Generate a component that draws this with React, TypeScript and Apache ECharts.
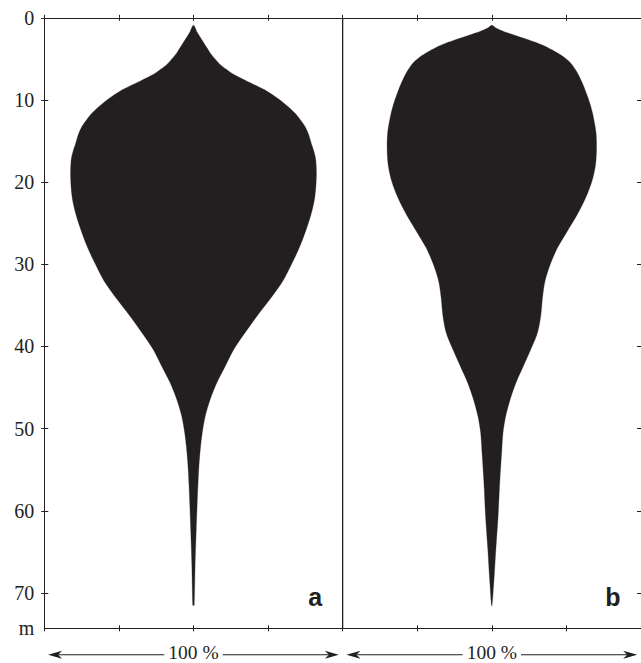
import React, { useEffect, useRef } from 'react';
import * as echarts from 'echarts';

// ---- data ----
const depthTicks = [0, 10, 20, 30, 40, 50, 60, 70];
const depthMax = 74.3;
const depthUnitLabel = 'm';
const percentMin = 0;
const percentMax = 200;
const percentTickStep = 25;
const panelLabels = ['a', 'b'];
const panelStarts = [0, 100];
const panelWidth = 100;
const panelSpanLabel = '100 %';

// panel a: depth (m) and relative width (%)
const depthA = [0.9, 1.8, 2.7, 3.5, 4.3, 5.0, 5.7, 6.2, 6.75, 7.3, 7.8, 8.3, 8.8, 9.4, 10.0, 10.8, 11.6, 12.4, 13.2, 14.2, 15.3, 16.3, 17.3, 19.3, 21.9, 24.0, 26.0, 28.0, 30.0, 32.1, 34.2, 36.2, 38.3, 40.4, 42.4, 44.4, 46.4, 48.4, 50.5, 52.5, 54.5, 56.5, 58.6, 62.6, 66.6, 71.5, 71.5];
const widthA = [0, 2.6, 5.7, 8.5, 11.3, 14.5, 18, 21.5, 25.7, 31.3, 36.9, 42.6, 48, 53.3, 58, 63.3, 68, 71.6, 74.7, 77.2, 79, 80.8, 82, 82.4, 81.3, 78.7, 75.1, 70.9, 65.7, 59.7, 51.5, 43, 34.7, 26.9, 21.3, 15.7, 11.3, 8.0, 5.9, 4.6, 3.7, 3.1, 2.6, 1.8, 1.1, 0.5, 0];

// panel b
const depthB = [0.9, 1.2, 1.5, 1.8, 2.1, 2.7, 3.3, 3.9, 4.5, 5.1, 5.7, 6.3, 7.0, 8.2, 9.4, 10.4, 11.6, 13.9, 15.9, 17.9, 19.9, 22.0, 24.0, 26.0, 28.0, 30.1, 32.1, 34.2, 36.3, 38.4, 40.4, 42.4, 44.5, 46.5, 48.5, 50.5, 52.6, 56.6, 60.7, 64.7, 68.8, 71.6];
const widthB = [0, 2.5, 6, 10, 14.9, 24.9, 33.8, 40.4, 46, 50.5, 53.8, 56, 58.2, 61.3, 63.8, 65.7, 67.5, 69.8, 70.2, 69.5, 67.1, 62.7, 57.1, 50.5, 44, 39, 35.6, 33.9, 32.8, 30.5, 26, 21.1, 16, 12.2, 9.3, 7.5, 6.7, 5.3, 4.2, 2.7, 1.3, 0];

const profiles = [
  { depths: depthA, widths: widthA },
  { depths: depthB, widths: widthB },
];

const INK = '#231f20';
const SERIF = '"Liberation Serif", "Times New Roman", serif';
const SANS = '"Liberation Sans", Arial, sans-serif';

export default function App() {
  const ref = useRef<HTMLDivElement>(null);

  useEffect(() => {
    if (!ref.current) return;
    const chart = echarts.init(ref.current, undefined, { renderer: 'svg' });

    const xBase = {
      type: 'value',
      min: percentMin,
      max: percentMax,
      interval: percentTickStep,
      splitLine: { show: false },
      axisLabel: { show: false },
    };
    const yBase = {
      type: 'value',
      inverse: true,
      min: 0,
      max: depthMax,
      splitLine: { show: false },
    };
    const lineStyle = { color: INK, width: 1 };

    const option: any = {
      animation: false,
      backgroundColor: '#ffffff',
      grid: { left: 44.3, top: 17.8, right: -3.3, bottom: 34.7, containLabel: false },
      xAxis: [
        { ...xBase, position: 'bottom', axisLine: { show: true, onZero: false, lineStyle }, axisTick: { show: true, inside: false, length: 3, lineStyle } },
        { ...xBase, position: 'bottom', axisLine: { show: false, onZero: false }, axisTick: { show: true, inside: true, length: 3, lineStyle } },
        { ...xBase, position: 'top', axisLine: { show: true, onZero: false, lineStyle }, axisTick: { show: true, inside: false, length: 3, lineStyle } },
        { ...xBase, position: 'top', axisLine: { show: false, onZero: false }, axisTick: { show: true, inside: true, length: 3, lineStyle } },
      ],
      yAxis: [
        {
          ...yBase,
          position: 'left',
          axisLine: { show: true, onZero: false, lineStyle },
          axisTick: { show: true, inside: false, length: 3, customValues: depthTicks, lineStyle },
          axisLabel: {
            show: true,
            customValues: [...depthTicks, depthMax],
            formatter: (v: number) => (v === depthMax ? depthUnitLabel : String(v)),
            margin: 10,
            fontFamily: SERIF,
            fontSize: 20,
            color: INK,
          },
        },
        {
          ...yBase,
          position: 'left',
          axisLine: { show: false, onZero: false },
          axisTick: { show: true, inside: true, length: 4, customValues: depthTicks, lineStyle },
          axisLabel: { show: false },
        },
        {
          ...yBase,
          position: 'right',
          axisLine: { show: true, onZero: false, lineStyle },
          axisTick: { show: true, inside: true, length: 4, customValues: depthTicks, lineStyle },
          axisLabel: { show: false },
        },
      ],
      series: [
        {
          type: 'custom',
          name: 'profiles',
          xAxisIndex: 0,
          yAxisIndex: 0,
          silent: true,
          data: [[0, 0], [1, 0]],
          renderItem: (params: any, api: any) => {
            const p = api.value(0);
            const { depths, widths } = profiles[p];
            const center = panelStarts[p] + panelWidth / 2;
            const right = depths.map((d, i) => api.coord([center + widths[i] / 2, d]));
            const left: number[][] = [];
            for (let i = depths.length - 1; i >= 0; i--) {
              if (widths[i] === 0) continue;
              left.push(api.coord([center - widths[i] / 2, depths[i]]));
            }
            return {
              type: 'polygon',
              shape: { points: right.concat(left), smooth: 0.3 },
              style: { fill: INK, stroke: INK, lineWidth: 0.3 },
            };
          },
        },
        {
          type: 'custom',
          name: 'annotations',
          xAxisIndex: 0,
          yAxisIndex: 0,
          silent: true,
          data: [[0, 0], [1, 0]],
          renderItem: (params: any, api: any) => {
            const p = api.value(0);
            const cs = params.coordSys;
            const top = cs.y;
            const bottom = cs.y + cs.height;
            const x0 = api.coord([panelStarts[p], 0])[0];
            const x1 = api.coord([panelStarts[p] + panelWidth, 0])[0];
            const ay = bottom + 26.5;
            const l = x0 + 3.8;
            const r = x1 - 3.8;
            const head = 14;
            const hw = 4;
            const notch = 10;
            const children: any[] = [
              { type: 'line', shape: { x1: l + notch, y1: ay, x2: r - notch, y2: ay }, style: { stroke: INK, lineWidth: 1.1 } },
              { type: 'polygon', shape: { points: [[l, ay], [l + head, ay - hw], [l + notch, ay], [l + head, ay + hw]] }, style: { fill: INK } },
              { type: 'polygon', shape: { points: [[r, ay], [r - head, ay - hw], [r - notch, ay], [r - head, ay + hw]] }, style: { fill: INK } },
              {
                type: 'text',
                x: (x0 + x1) / 2,
                y: ay - 2,
                style: {
                  text: panelSpanLabel,
                  fill: INK,
                  font: `19.5px ${SERIF}`,
                  lineHeight: 14,
                  align: 'center',
                  verticalAlign: 'middle',
                  backgroundColor: '#ffffff',
                  padding: [2, 4],
                },
              },
              {
                type: 'text',
                x: x1 - 20.5,
                y: bottom - 31.5,
                style: {
                  text: panelLabels[p],
                  fill: INK,
                  font: `bold 25px ${SANS}`,
                  align: 'right',
                  verticalAlign: 'middle',
                },
              },
            ];
            if (p > 0) {
              children.push({ type: 'line', shape: { x1: x0, y1: top, x2: x0, y2: bottom }, style: { stroke: INK, lineWidth: 1.3 } });
            }
            return { type: 'group', children };
          },
        },
      ],
    };

    chart.setOption(option);
    return () => chart.dispose();
  }, []);

  return (
    <div
      ref={ref}
      style={{ position: 'fixed', left: 0, top: 0, width: 641, height: 663, background: '#fff' }}
    />
  );
}
